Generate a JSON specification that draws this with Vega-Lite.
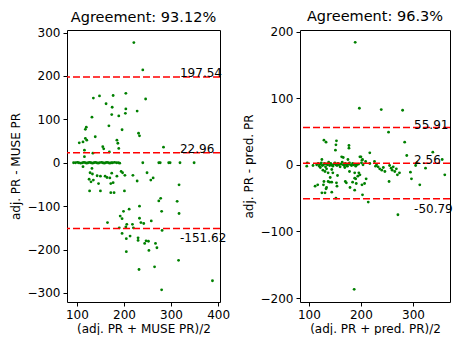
{
  "$schema": "https://vega.github.io/schema/vega-lite/v6.json",
  "padding": {"left": 8, "top": 8, "right": 0, "bottom": 0},
  "bounds": "flush",
  "spacing": 80,
  "config": {
    "font": "DejaVu Sans",
    "view": {"stroke": "black", "strokeWidth": 1},
    "axis": {"domain": false, "grid": false, "tickColor": "black", "tickSize": 4, "labelColor": "black", "labelFontSize": 12, "labelFont": "DejaVu Sans", "labelPadding": 3, "titleFont": "DejaVu Sans", "titleFontSize": 12, "titleFontWeight": "normal", "titleColor": "black"},
    "axisY": {"titlePadding": 5},
    "axisX": {"titlePadding": 3},
    "title": {"fontSize": 14.5, "fontWeight": "normal", "font": "DejaVu Sans", "color": "black", "offset": 1}
  },
  "hconcat": [
    {
      "title": "Agreement: 93.12%",
      "width": 153,
      "height": 272,
      "layer": [
        {
          "data": {"values": [
            {"m":221,"d":277},{"m":240,"d":214},{"m":246,"d":147},{"m":204,"d":160},{"m":177,"d":155},{"m":148,"d":154},{"m":135,"d":149},{"m":162,"d":136},{"m":175,"d":128},{"m":204,"d":124},{"m":203,"d":114},{"m":174,"d":111},{"m":189,"d":108},{"m":228,"d":119},{"m":132,"d":105},{"m":168,"d":85},{"m":196,"d":76},{"m":120,"d":82},{"m":118,"d":77},{"m":231,"d":68},{"m":233,"d":62},{"m":139,"d":60},{"m":118,"d":56},{"m":121,"d":52},{"m":113,"d":48},{"m":105,"d":46},{"m":185,"d":52},{"m":187,"d":45},{"m":189,"d":33},{"m":155,"d":37},{"m":157,"d":32},{"m":169,"d":25},{"m":134,"d":22},{"m":116,"d":29},{"m":116,"d":14},{"m":284,"d":36},
            {"m":93,"d":0},{"m":97,"d":0},{"m":101,"d":1},{"m":104,"d":0},{"m":108,"d":-1},{"m":112,"d":0},{"m":115,"d":1},{"m":118,"d":0},{"m":121,"d":-1},{"m":124,"d":0},{"m":127,"d":1},{"m":130,"d":0},{"m":133,"d":-1},{"m":136,"d":0},{"m":139,"d":1},{"m":142,"d":0},{"m":145,"d":-1},{"m":148,"d":0},{"m":152,"d":1},{"m":155,"d":0},{"m":158,"d":-1},{"m":161,"d":0},{"m":164,"d":1},{"m":167,"d":0},{"m":170,"d":-1},{"m":173,"d":0},{"m":176,"d":0},{"m":180,"d":1},{"m":184,"d":0},{"m":188,"d":0},{"m":191,"d":-1},{"m":240,"d":0},{"m":274,"d":0},{"m":277,"d":0},{"m":295,"d":0},{"m":298,"d":0},{"m":319,"d":0},{"m":349,"d":0},
            {"m":113,"d":-9},{"m":132,"d":-13},{"m":249,"d":-23},{"m":128,"d":-23},{"m":133,"d":-26},{"m":143,"d":-30},{"m":150,"d":-31},{"m":160,"d":-31},{"m":164,"d":-34},{"m":170,"d":-35},{"m":174,"d":-24},{"m":185,"d":-31},{"m":194,"d":-20},{"m":197,"d":-23},{"m":202,"d":-29},{"m":219,"d":-29},{"m":135,"d":-40},{"m":130,"d":-44},{"m":126,"d":-38},{"m":228,"d":-42},{"m":172,"d":-48},{"m":146,"d":-48},{"m":257,"d":-40},{"m":262,"d":-35},{"m":317,"d":-51},{"m":127,"d":-65},{"m":150,"d":-65},{"m":172,"d":-69},{"m":179,"d":-69},{"m":201,"d":-65},{"m":177,"d":-46},{"m":211,"d":-107},{"m":233,"d":-100},{"m":274,"d":-88},{"m":278,"d":-82},{"m":313,"d":-89},{"m":280,"d":-112},{"m":317,"d":-117},{"m":199,"d":-112},{"m":192,"d":-123},{"m":196,"d":-129},{"m":233,"d":-128},{"m":236,"d":-138},{"m":165,"d":-138},{"m":206,"d":-142},{"m":218,"d":-142},{"m":242,"d":-140},{"m":258,"d":-134},{"m":190,"d":-150},{"m":204,"d":-148},{"m":220,"d":-150},{"m":281,"d":-156},{"m":196,"d":-163},{"m":213,"d":-169},{"m":205,"d":-175},{"m":230,"d":-173},{"m":230,"d":-179},{"m":247,"d":-180},{"m":244,"d":-186},{"m":252,"d":-181},{"m":267,"d":-186},{"m":270,"d":-196},{"m":253,"d":-202},{"m":205,"d":-205},{"m":316,"d":-225},{"m":232,"d":-246},{"m":265,"d":-240},{"m":388,"d":-272},{"m":280,"d":-293}
          ]},
          "mark": {"type": "circle", "size": 8, "color": "#008000", "opacity": 1},
          "encoding": {
            "x": {"field": "m", "type": "quantitative", "scale": {"domain": [79, 404], "nice": false, "zero": false}, "axis": {"values": [100, 200, 300, 400], "title": "(adj. PR + MUSE PR)/2"}},
            "y": {"field": "d", "type": "quantitative", "scale": {"domain": [-321, 306], "nice": false, "zero": false}, "axis": {"values": [-300, -200, -100, 0, 100, 200, 300], "title": "adj. PR - MUSE PR"}}
          }
        },
        {
          "data": {"values": [{"v": 197.54, "label": "197.54"}, {"v": 22.96, "label": "22.96"}, {"v": -151.62, "label": "-151.62"}]},
          "layer": [
            {"mark": {"type": "rule", "color": "#ff0000", "strokeWidth": 1.5, "strokeDash": [7, 3]}, "encoding": {"y": {"field": "v", "type": "quantitative"}}},
            {"transform": [{"filter": "datum.v > -100"}], "mark": {"type": "text", "align": "left", "baseline": "alphabetic", "fontSize": 12, "color": "black", "dy": 0}, "encoding": {"x": {"datum": 319}, "y": {"field": "v", "type": "quantitative"}, "text": {"field": "label"}}},
            {"transform": [{"filter": "datum.v < -100"}], "mark": {"type": "text", "align": "left", "baseline": "top", "fontSize": 12, "color": "black", "dy": 4}, "encoding": {"x": {"datum": 319}, "y": {"field": "v", "type": "quantitative"}, "text": {"field": "label"}}}
          ]
        }
      ]
    },
    {
      "title": "Agreement: 96.3%",
      "width": 150,
      "height": 272,
      "layer": [
        {
          "data": {"values": [
            {"m":189,"d":184},{"m":197,"d":85},{"m":239,"d":83},{"m":280,"d":82},{"m":253,"d":49},{"m":129,"d":37},{"m":133,"d":34},{"m":153,"d":36},{"m":152,"d":30},{"m":151,"d":22},{"m":177,"d":29},{"m":177,"d":25},{"m":284,"d":34},{"m":288,"d":14},{"m":338,"d":19},{"m":217,"d":18},{"m":198,"d":12},{"m":209,"d":5},{"m":203,"d":8},{"m":166,"d":11},{"m":175,"d":8},{"m":163,"d":12},{"m":200,"d":12},{"m":202,"d":7},{"m":204,"d":0},{"m":201,"d":3},{"m":125,"d":8},{"m":97,"d":3},{"m":96,"d":-2},{"m":108,"d":-1},{"m":217,"d":2},
            {"m":115,"d":0},{"m":118,"d":2},{"m":120,"d":-2},{"m":122,"d":1},{"m":124,"d":3},{"m":126,"d":-1},{"m":128,"d":0},{"m":130,"d":2},{"m":132,"d":-3},{"m":134,"d":1},{"m":136,"d":0},{"m":138,"d":4},{"m":140,"d":-1},{"m":142,"d":2},{"m":144,"d":0},{"m":146,"d":-2},{"m":148,"d":1},{"m":150,"d":3},{"m":152,"d":0},{"m":154,"d":-1},{"m":156,"d":2},{"m":158,"d":0},{"m":160,"d":-3},{"m":162,"d":1},{"m":164,"d":4},{"m":166,"d":0},{"m":168,"d":-1},{"m":170,"d":2},{"m":172,"d":0},{"m":174,"d":-2},{"m":176,"d":1},{"m":178,"d":3},{"m":180,"d":0},{"m":182,"d":-1},{"m":184,"d":2},{"m":186,"d":0},{"m":188,"d":1},{"m":190,"d":-2},{"m":192,"d":0},{"m":195,"d":1},
            {"m":122,"d":-4},{"m":127,"d":-8},{"m":131,"d":-10},{"m":134,"d":-6},{"m":137,"d":-12},{"m":144,"d":-7},{"m":146,"d":-12},{"m":169,"d":-4},{"m":178,"d":-10},{"m":188,"d":-12},{"m":196,"d":-12},{"m":194,"d":-17},{"m":188,"d":-20},{"m":190,"d":-21},{"m":155,"d":-16},{"m":141,"d":-19},{"m":137,"d":-25},{"m":170,"d":-25},{"m":184,"d":-26},{"m":202,"d":-30},{"m":210,"d":-21},{"m":129,"d":-25},{"m":128,"d":-30},{"m":117,"d":-30},{"m":112,"d":-32},{"m":144,"d":-26},{"m":134,"d":-34},{"m":153,"d":-27},{"m":179,"d":-34},{"m":188,"d":-38},{"m":133,"d":-36},{"m":131,"d":-42},{"m":125,"d":-42},{"m":144,"d":-41},{"m":203,"d":-45},{"m":214,"d":-56},{"m":152,"d":-50},{"m":140,"d":-26},{"m":154,"d":-32},{"m":172,"d":-27},{"m":191,"d":-28},{"m":207,"d":-28},{"m":198,"d":-15},
            {"m":226,"d":5},{"m":230,"d":0},{"m":233,"d":-3},{"m":236,"d":-6},{"m":240,"d":-8},{"m":243,"d":-4},{"m":246,"d":-10},{"m":228,"d":-2},{"m":255,"d":-1},{"m":258,"d":-5},{"m":260,"d":-8},{"m":262,"d":-3},{"m":265,"d":-10},{"m":268,"d":-6},{"m":270,"d":-15},{"m":274,"d":-12},{"m":254,"d":-25},{"m":295,"d":-11},{"m":297,"d":-21},{"m":305,"d":-1},{"m":308,"d":3},{"m":313,"d":-30},{"m":324,"d":-5},{"m":356,"d":8},{"m":361,"d":-15},{"m":271,"d":-75},{"m":187,"d":-187}
          ]},
          "mark": {"type": "circle", "size": 8, "color": "#008000", "opacity": 1},
          "encoding": {
            "x": {"field": "m", "type": "quantitative", "scale": {"domain": [83, 371], "nice": false, "zero": false}, "axis": {"values": [100, 200, 300], "title": "(adj. PR + pred. PR)/2"}},
            "y": {"field": "d", "type": "quantitative", "scale": {"domain": [-206, 202.5], "nice": false, "zero": false}, "axis": {"values": [-200, -150, -100, -50, 0, 50, 100, 150, 200], "title": "adj. PR - pred. PR"}}
          }
        },
        {
          "data": {"values": [{"v": 55.91, "label": "55.91"}, {"v": 2.56, "label": "2.56"}, {"v": -50.79, "label": "-50.79"}]},
          "layer": [
            {"mark": {"type": "rule", "color": "#ff0000", "strokeWidth": 1.5, "strokeDash": [7, 3]}, "encoding": {"y": {"field": "v", "type": "quantitative"}}},
            {"transform": [{"filter": "datum.v > -20"}], "mark": {"type": "text", "align": "left", "baseline": "alphabetic", "fontSize": 12, "color": "black", "dy": 1}, "encoding": {"x": {"datum": 302}, "y": {"field": "v", "type": "quantitative"}, "text": {"field": "label"}}},
            {"transform": [{"filter": "datum.v < -20"}], "mark": {"type": "text", "align": "left", "baseline": "top", "fontSize": 12, "color": "black", "dy": 5}, "encoding": {"x": {"datum": 302}, "y": {"field": "v", "type": "quantitative"}, "text": {"field": "label"}}}
          ]
        }
      ]
    }
  ]
}
